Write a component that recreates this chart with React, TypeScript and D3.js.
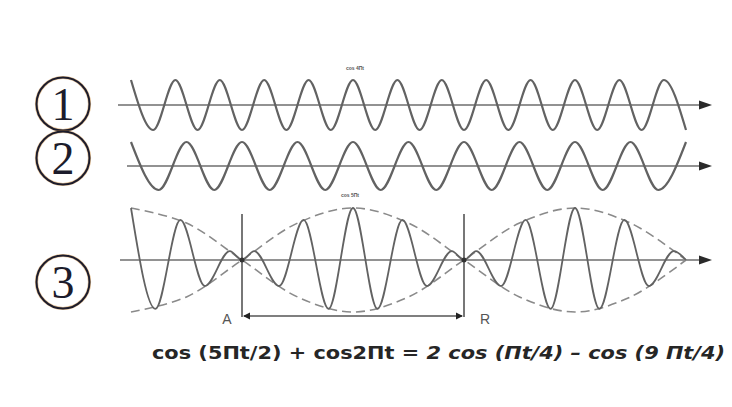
import React from "react";
import * as d3 from "d3";

// shared time axis (t units) for the three traces
const timeDomain = [0, 10];

// ① cos(5πt/2) : extrema
const wave1T = [0, 0.4, 0.8, 1.2, 1.6, 2, 2.4, 2.8, 3.2, 3.6, 4, 4.4, 4.8, 5.2, 5.6, 6, 6.4, 6.8, 7.2, 7.6, 8, 8.4, 8.8, 9.2, 9.6, 10];
const wave1V = [1, -1, 1, -1, 1, -1, 1, -1, 1, -1, 1, -1, 1, -1, 1, -1, 1, -1, 1, -1, 1, -1, 1, -1, 1, -1];

// ② cos(2πt)
const wave2T = [0, 0.5, 1, 1.5, 2, 2.5, 3, 3.5, 4, 4.5, 5, 5.5, 6, 6.5, 7, 7.5, 8, 8.5, 9, 9.5, 10];
const wave2V = [1, -1, 1, -1, 1, -1, 1, -1, 1, -1, 1, -1, 1, -1, 1, -1, 1, -1, 1, -1, 1];

// ③ sum (beats), normalised to the envelope peak
const wave3T = [0, 0.44, 0.89, 1.33, 1.78, 2, 2.22, 2.67, 3.11, 3.56, 4, 4.44, 4.89, 5.33, 5.78, 6, 6.22, 6.67, 7.11, 7.56, 8, 8.44, 8.89, 9.33, 9.78, 10];
const wave3V = [1, -0.94, 0.77, -0.5, 0.17, 0, 0.17, -0.5, 0.77, -0.94, 1, -0.94, 0.77, -0.5, 0.17, 0, 0.17, -0.5, 0.77, -0.94, 1, -0.94, 0.77, -0.5, 0.17, 0];

// dashed envelope of ③
const envT = [0, 1, 2, 3, 4, 5, 6, 7, 8, 9, 10];
const envV = [1, 0.71, 0, -0.71, -1, -0.71, 0, 0.71, 1, 0.71, 0];

// beat markers
const markerT = [2, 6];
const markerLabels = ["A", "R"];

const panelLabels = ["1", "2", "3"];
const smallLabels = ["cos 4Πt", "cos 5Πt"];

const W = 732;
const H = 407;

const x = d3.scaleLinear().domain(timeDomain).range([131, 686]);
const panels = [
  { cy: 105, amp: 25 },
  { cy: 166, amp: 24 },
  { cy: 260, amp: 52 },
];
const yFor = (i: number) =>
  d3.scaleLinear().domain([-1, 1]).range([panels[i].cy + panels[i].amp, panels[i].cy - panels[i].amp]);

const wavePath = (ts: number[], vs: number[], i: number, curve: d3.CurveFactory) => {
  const y = yFor(i);
  const pts = ts.map((t, k) => [t, vs[k]] as [number, number]);
  return d3
    .line<[number, number]>()
    .x((d) => x(d[0]))
    .y((d) => y(d[1]))
    .curve(curve)(pts) as string;
};

const axisStart = [118, 127, 120];
const axisTip = 712;
const axisColor = "#6e6e6e";
const waveColor = "#626262";

const App = () => {
  const y3 = yFor(2);
  const bracketY = 316;
  return (
    <svg
      width={W}
      height={H}
      style={{ position: "absolute", left: 0, top: 0, background: "#fff" }}
    >
      {/* axes with arrow heads */}
      {panels.map((p, i) => (
        <g key={"ax" + i}>
          <line x1={axisStart[i]} x2={axisTip - 8} y1={p.cy} y2={p.cy} stroke={axisColor} strokeWidth={1.6} />
          <path
            d={`M${axisTip},${p.cy} L${axisTip - 13},${p.cy - 4.5} L${axisTip - 13},${p.cy + 4.5} Z`}
            fill="#2a2a2a"
          />
        </g>
      ))}

      {/* envelope of ③ */}
      <path d={wavePath(envT, envV, 2, d3.curveCatmullRom)} fill="none" stroke="#8a8a8a" strokeWidth={1.6} strokeDasharray="9,5" />
      <path d={wavePath(envT, envV.map((v) => -v), 2, d3.curveCatmullRom)} fill="none" stroke="#8a8a8a" strokeWidth={1.6} strokeDasharray="9,5" />

      {/* traces */}
      <path d={wavePath(wave1T, wave1V, 0, d3.curveMonotoneX)} fill="none" stroke={waveColor} strokeWidth={2.2} />
      <path d={wavePath(wave2T, wave2V, 1, d3.curveMonotoneX)} fill="none" stroke={waveColor} strokeWidth={2.2} />
      <path d={wavePath(wave3T, wave3V, 2, d3.curveMonotoneX)} fill="none" stroke={waveColor} strokeWidth={1.8} />

      {/* beat markers A / R */}
      {markerT.map((t, i) => (
        <g key={"m" + i}>
          <line x1={x(t)} x2={x(t)} y1={214} y2={bracketY + 1} stroke="#555" strokeWidth={1.6} />
          <circle cx={x(t)} cy={y3(0)} r={2.5} fill="#333" />
          <text
            x={x(t) + (i === 0 ? -15 : 21)}
            y={bracketY + 8}
            textAnchor="middle"
            fontFamily="Liberation Sans, Arial, sans-serif"
            fontSize={14}
            fill="#555"
          >
            {markerLabels[i]}
          </text>
        </g>
      ))}
      <line x1={x(markerT[0]) + 2} x2={x(markerT[1]) - 2} y1={bracketY} y2={bracketY} stroke="#555" strokeWidth={1.6} />
      <path
        d={`M${x(markerT[0]) + 1},${bracketY} L${x(markerT[0]) + 8},${bracketY - 3.5} L${x(markerT[0]) + 8},${bracketY + 3.5} Z`}
        fill="#222"
      />
      <path
        d={`M${x(markerT[1]) - 1},${bracketY} L${x(markerT[1]) - 8},${bracketY - 3.5} L${x(markerT[1]) - 8},${bracketY + 3.5} Z`}
        fill="#222"
      />

      {/* tiny captions */}
      <text x={355} y={70} textAnchor="middle" fontFamily="Liberation Sans, Arial, sans-serif" fontSize={5} fontWeight="bold" fill="#555">
        {smallLabels[0]}
      </text>
      <text x={350} y={197} textAnchor="middle" fontFamily="Liberation Sans, Arial, sans-serif" fontSize={5} fontWeight="bold" fill="#555">
        {smallLabels[1]}
      </text>

      {/* circled panel numbers */}
      {panels.map((p, i) => {
        const cy = [104, 158, 282][i];
        return (
          <g key={"c" + i}>
            <circle cx={63} cy={cy} r={26.5} fill="none" stroke="#c9893a" strokeWidth={3.2} opacity={0.55} />
            <circle cx={63} cy={cy} r={26.5} fill="none" stroke="#1c1c2c" strokeWidth={2} />
            <text
              x={63}
              y={cy + 16}
              textAnchor="middle"
              fontFamily="Liberation Serif, Times New Roman, serif"
              fontSize={46}
              fill="#1c1c2c"
            >
              {panelLabels[i]}
            </text>
          </g>
        );
      })}

      {/* identity */}
      <text
        x={152}
        y={359}
        fontFamily="DejaVu Sans, Verdana, sans-serif"
        fontWeight="bold"
        fontSize={17}
        fill="#262626"
        textLength={573}
        lengthAdjust="spacingAndGlyphs"
      >
        <tspan>cos (5Πt/2) + cos2Πt = </tspan>
        <tspan fontStyle="italic">2 cos (Πt/4)  – cos (9 Πt/4)</tspan>
      </text>
    </svg>
  );
};

export default App;
